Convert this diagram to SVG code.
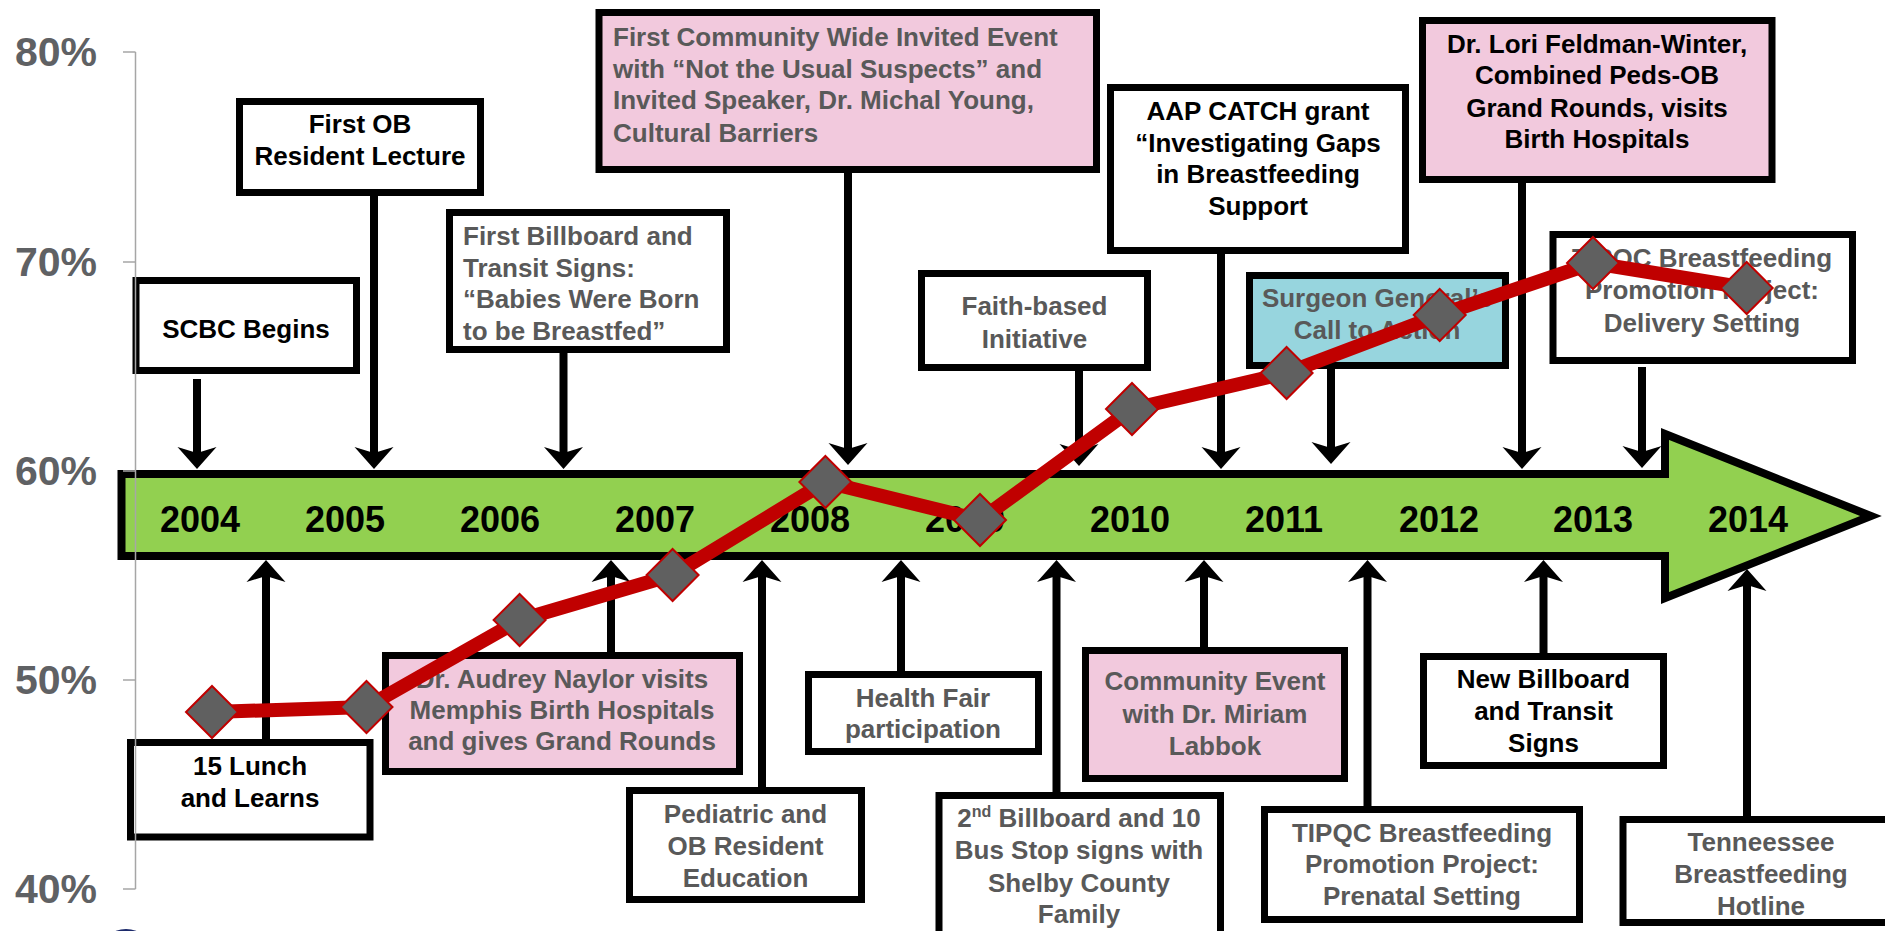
<svg xmlns="http://www.w3.org/2000/svg" width="1885" height="931" viewBox="0 0 1885 931">
<style>
.bx{stroke:#000;stroke-width:7;fill:#fff}
.pk{fill:#f2c9dd}
.tl{fill:#97d5de}
.t{font-family:"Liberation Sans",Arial,sans-serif;font-weight:bold;font-size:26px}
.k{fill:#000}
.g{fill:#595959}
.c{text-anchor:middle}
.yr{font-family:"Liberation Sans",Arial,sans-serif;font-weight:bold;font-size:36px;fill:#000;text-anchor:middle}
.pc{font-family:"Liberation Sans",Arial,sans-serif;font-weight:bold;font-size:41px;fill:#5f6164;text-anchor:end}
.cn line{stroke:#000;stroke-width:8;marker-end:url(#ah)}
.dm{fill:#606060;stroke:#c00000;stroke-width:2}
</style>
<defs>
<marker id="ah" markerUnits="userSpaceOnUse" markerWidth="24" markerHeight="40" viewBox="0 -20 24 40" refX="8" refY="0" orient="auto">
<path d="M22,0 L0,-19.5 L6,0 L0,19.5 Z" fill="#000"/>
</marker>
<path id="dia" d="M0,-26 L26,0 L0,26 L-26,0 Z"/>
</defs>
<rect width="1885" height="931" fill="#fff"/>

<g id="percent-labels">
<text class="pc" x="97" y="66">80%</text>
<text class="pc" x="97" y="276">70%</text>
<text class="pc" x="97" y="485">60%</text>
<text class="pc" x="97" y="694">50%</text>
<text class="pc" x="97" y="903">40%</text>
</g>

<g id="timeline-bar">
<path d="M121.5,474 L1665,474 L1665,434 L1871,516 L1665,598 L1665,556 L121.5,556 Z" fill="#92d050" stroke="#000" stroke-width="8" stroke-linejoin="miter"/>
<text class="yr" x="200" y="532">2004</text>
<text class="yr" x="345" y="532">2005</text>
<text class="yr" x="500" y="532">2006</text>
<text class="yr" x="655" y="532">2007</text>
<text class="yr" x="810" y="532">2008</text>
<text class="yr" x="965" y="532">2009</text>
<text class="yr" x="1130" y="532">2010</text>
<text class="yr" x="1284" y="532">2011</text>
<text class="yr" x="1439" y="532">2012</text>
<text class="yr" x="1593" y="532">2013</text>
<text class="yr" x="1748" y="532">2014</text>
</g>

<g id="n-scbc">
<rect class="bx" x="136" y="280.5" width="220.5" height="90"/>
<text class="t k c" x="246" y="338">SCBC Begins</text>
</g>
<g id="n-first-ob">
<rect class="bx" x="239.5" y="101.5" width="241" height="91"/>
<text class="t k c" x="360" y="133">First OB</text>
<text class="t k c" x="360" y="165">Resident Lecture</text>
</g>
<g id="n-first-billboard">
<rect class="bx" x="449.5" y="212.5" width="277" height="137"/>
<text class="t g" x="463" y="245">First Billboard and</text>
<text class="t g" x="463" y="277">Transit Signs:</text>
<text class="t g" x="463" y="308">“Babies Were Born</text>
<text class="t g" x="463" y="340">to be Breastfed”</text>
</g>
<g id="n-community-wide">
<rect class="bx pk" x="599" y="12.5" width="497.5" height="157"/>
<text class="t g" x="613" y="46">First Community Wide Invited Event</text>
<text class="t g" x="613" y="78">with “Not the Usual Suspects” and</text>
<text class="t g" x="613" y="109">Invited Speaker, Dr. Michal Young,</text>
<text class="t g" x="613" y="142">Cultural Barriers</text>
</g>
<g id="n-faith">
<rect class="bx" x="921.5" y="273.5" width="226" height="94"/>
<text class="t g c" x="1034.5" y="315">Faith-based</text>
<text class="t g c" x="1034.5" y="348">Initiative</text>
</g>
<g id="n-aap">
<rect class="bx" x="1110.5" y="87.5" width="295" height="163"/>
<text class="t k c" x="1258" y="120">AAP CATCH grant</text>
<text class="t k c" x="1258" y="152">“Investigating Gaps</text>
<text class="t k c" x="1258" y="183">in Breastfeeding</text>
<text class="t k c" x="1258" y="215">Support</text>
</g>
<g id="n-surgeon">
<rect class="bx tl" x="1249.5" y="275.5" width="256" height="90"/>
<text class="t g c" x="1377" y="307">Surgeon General’s</text>
<text class="t g c" x="1377" y="339">Call to Action</text>
</g>
<g id="n-lori">
<rect class="bx pk" x="1422.5" y="20.5" width="349.5" height="159"/>
<text class="t k c" x="1597" y="53">Dr. Lori Feldman-Winter,</text>
<text class="t k c" x="1597" y="84">Combined Peds-OB</text>
<text class="t k c" x="1597" y="117">Grand Rounds, visits</text>
<text class="t k c" x="1597" y="148">Birth Hospitals</text>
</g>
<g id="n-tipqc-delivery">
<rect class="bx" x="1553" y="234.5" width="299.5" height="126"/>
<text class="t g c" x="1702" y="267">TIPQC Breastfeeding</text>
<text class="t g c" x="1702" y="299">Promotion Project:</text>
<text class="t g c" x="1702" y="332">Delivery Setting</text>
</g>
<g id="n-lunch">
<rect class="bx" x="130.5" y="742.5" width="239.5" height="94.5"/>
<text class="t k c" x="250" y="775">15 Lunch</text>
<text class="t k c" x="250" y="807">and Learns</text>
</g>
<g id="n-naylor">
<rect class="bx pk" x="385.5" y="655.5" width="354" height="116"/>
<text class="t g c" x="562" y="688">Dr. Audrey Naylor visits</text>
<text class="t g c" x="562" y="719">Memphis Birth Hospitals</text>
<text class="t g c" x="562" y="750">and gives Grand Rounds</text>
</g>
<g id="n-pediatric">
<rect class="bx" x="629.5" y="790.5" width="232" height="109"/>
<text class="t g c" x="745.5" y="823">Pediatric and</text>
<text class="t g c" x="745.5" y="855">OB Resident</text>
<text class="t g c" x="745.5" y="887">Education</text>
</g>
<g id="n-health-fair">
<rect class="bx" x="808.5" y="674.5" width="230" height="77"/>
<text class="t g c" x="923" y="707">Health Fair</text>
<text class="t g c" x="923" y="738">participation</text>
</g>
<g id="n-second-billboard">
<rect class="bx" x="939" y="795.5" width="281.5" height="160"/>
<text class="t g c" x="1079" y="827">2<tspan font-size="16" dy="-10">nd</tspan><tspan dy="10"> Billboard and 10</tspan></text>
<text class="t g c" x="1079" y="859">Bus Stop signs with</text>
<text class="t g c" x="1079" y="892">Shelby County</text>
<text class="t g c" x="1079" y="923">Family</text>
</g>
<g id="n-community-labbok">
<rect class="bx pk" x="1085.5" y="650.5" width="259" height="128"/>
<text class="t g c" x="1215" y="690">Community Event</text>
<text class="t g c" x="1215" y="723">with Dr. Miriam</text>
<text class="t g c" x="1215" y="755">Labbok</text>
</g>
<g id="n-tipqc-prenatal">
<rect class="bx" x="1264.5" y="809.5" width="315" height="110"/>
<text class="t g c" x="1422" y="842">TIPQC Breastfeeding</text>
<text class="t g c" x="1422" y="873">Promotion Project:</text>
<text class="t g c" x="1422" y="905">Prenatal Setting</text>
</g>
<g id="n-new-billboard">
<rect class="bx" x="1423.5" y="656.5" width="240" height="109"/>
<text class="t k c" x="1543.5" y="688">New Billboard</text>
<text class="t k c" x="1543.5" y="720">and Transit</text>
<text class="t k c" x="1543.5" y="752">Signs</text>
</g>
<g id="n-tennessee">
<rect class="bx" x="1623" y="819.5" width="280" height="103"/>
<text class="t g c" x="1761" y="851">Tenneessee</text>
<text class="t g c" x="1761" y="883">Breastfeeding</text>
<text class="t g c" x="1761" y="915">Hotline</text>
</g>

<g id="connectors" class="cn">
<line x1="197" y1="379" x2="197" y2="455"/>
<line x1="374" y1="196" x2="374" y2="455"/>
<line x1="563.5" y1="353" x2="563.5" y2="455"/>
<line x1="848" y1="173" x2="848" y2="451"/>
<line x1="1079" y1="371" x2="1079" y2="452"/>
<line x1="1221" y1="254" x2="1221" y2="455"/>
<line x1="1331" y1="369" x2="1331" y2="450"/>
<line x1="1522" y1="183" x2="1522" y2="455"/>
<line x1="1642" y1="367" x2="1642" y2="454"/>
<line x1="266" y1="739" x2="266" y2="574"/>
<line x1="611" y1="652" x2="611" y2="574"/>
<line x1="762" y1="787" x2="762" y2="574"/>
<line x1="901" y1="671" x2="901" y2="574"/>
<line x1="1056.5" y1="792" x2="1056.5" y2="574"/>
<line x1="1204" y1="647" x2="1204" y2="574"/>
<line x1="1367.5" y1="806" x2="1367.5" y2="574"/>
<line x1="1543.5" y1="653" x2="1543.5" y2="574"/>
<line x1="1747" y1="816" x2="1747" y2="583"/>
</g>

<g id="axis" stroke="#a6a6a6" stroke-width="1.5" fill="none">
<path d="M135.5,52 V889 M123,52 H135.5 M123,262 H135.5 M123,471 H135.5 M123,680 H135.5 M123,889 H135.5"/>
</g>

<g id="data-line">
<polyline points="212,712 366.5,707 519.6,620 672.6,575 825.4,482 980,520 1132,409 1286.6,373 1439.7,315 1593,263 1746.7,288" fill="none" stroke="#c00000" stroke-width="14" stroke-linejoin="round"/>
<use href="#dia" class="dm" x="212" y="712"/>
<use href="#dia" class="dm" x="366.5" y="707"/>
<use href="#dia" class="dm" x="519.6" y="620"/>
<use href="#dia" class="dm" x="672.6" y="575"/>
<use href="#dia" class="dm" x="825.4" y="482"/>
<use href="#dia" class="dm" x="980" y="520"/>
<use href="#dia" class="dm" x="1132" y="409"/>
<use href="#dia" class="dm" x="1286.6" y="373"/>
<use href="#dia" class="dm" x="1439.7" y="315"/>
<use href="#dia" class="dm" x="1593" y="263"/>
<use href="#dia" class="dm" x="1746.7" y="288"/>
</g>

<ellipse id="logo-fragment" cx="126" cy="951" rx="26" ry="22" fill="#1c2a6b"/>
</svg>
